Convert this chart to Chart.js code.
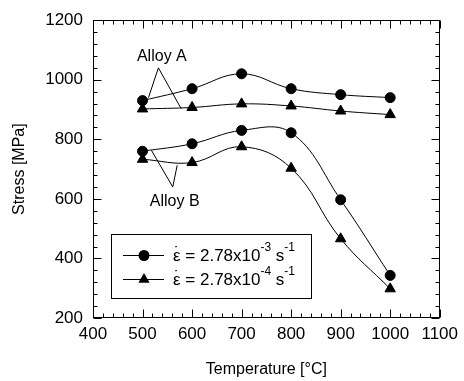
<!DOCTYPE html>
<html>
<head>
<meta charset="utf-8">
<script src="https://cdn.jsdelivr.net/npm/chart.js@4.4.0/dist/chart.umd.min.js"></script>
<style>
  html, body { margin: 0; padding: 0; background: #fff; }
  #wrap { width: 464px; height: 381px; }
</style>
</head>
<body>
<div id="wrap"><canvas id="stress-chart" width="464" height="381"></canvas></div>
<script>
// temperature [°C] and stress [MPa]
const temperatures = [500, 600, 700, 800, 900, 1000];
const alloyAFast = [930, 970, 1020, 970, 950, 940];   // 2.78x10^-3 s^-1
const alloyASlow = [902, 907, 919, 912, 895, 883];    // 2.78x10^-4 s^-1
const alloyBFast = [760, 785, 830, 822, 597, 343];
const alloyBSlow = [733, 722, 775, 703, 466, 298];

const xTicks = [400, 500, 600, 700, 800, 900, 1000, 1100];
const yTicks = [200, 400, 600, 800, 1000, 1200];

const legendRates = ['2.78', '2.78'];
const legendExponents = ['-3', '-4'];

const FONT = "'Liberation Sans', Arial, sans-serif";

function toPoints(values) {
    return temperatures.map((t, i) => ({ x: t, y: values[i] }));
}

function series(values, style) {
    return {
        data: toPoints(values),
        borderColor: '#000',
        borderWidth: 1,
        backgroundColor: '#000',
        pointStyle: style,
        pointRadius: style === 'triangle' ? 6 : 5,
        pointBorderColor: '#000',
        pointBackgroundColor: '#000',
        tension: 0.4,
        fill: false
    };
}

// "Alloy A" / "Alloy B" labels with their pointer lines, in data units
const callouts = [
    { text: 'Alloy A', at: [539, 1077], apex: [532, 1040], ends: [[512, 940], [578, 903]] },
    { text: 'Alloy B', at: [565, 590], apex: [561, 640], ends: [[518, 763], [570, 713]] }
];

function drawMarker(ctx, style, x, y) {
    ctx.beginPath();
    if (style === 'circle') {
        ctx.arc(x, y, 5.5, 0, Math.PI * 2);
    } else {
        const r = 6.5;
        ctx.moveTo(x, y - r);
        ctx.lineTo(x + r * 0.866, y + r / 2);
        ctx.lineTo(x - r * 0.866, y + r / 2);
        ctx.closePath();
    }
    ctx.fill();
}

const frameAndTicks = {
    id: 'frameAndTicks',
    afterDraw(chart) {
        const { ctx, chartArea: a, scales: { x, y } } = chart;
        ctx.save();
        ctx.strokeStyle = '#000';
        ctx.lineWidth = 1;
        const L = Math.round(a.left) + 0.5, R = Math.round(a.right) - 0.5;
        const T = Math.round(a.top) + 0.5, B = Math.round(a.bottom) - 0.5;
        ctx.beginPath();
        for (let v = 400; v <= 1100; v += 20) {
            const px = Math.round(x.getPixelForValue(v)) + 0.5;
            const len = v % 100 === 0 ? 8 : 4;
            ctx.moveTo(px, B); ctx.lineTo(px, B - len);
            ctx.moveTo(px, T); ctx.lineTo(px, T + len);
        }
        for (let v = 200; v <= 1200; v += 40) {
            const py = Math.round(y.getPixelForValue(v)) + 0.5;
            const len = v % 200 === 0 ? 8 : 4;
            ctx.moveTo(L, py); ctx.lineTo(L + len, py);
            ctx.moveTo(R, py); ctx.lineTo(R - len, py);
        }
        ctx.stroke();
        ctx.strokeRect(L, T, R - L, B - T);

        // callouts
        ctx.fillStyle = '#000';
        ctx.font = '16px ' + FONT;
        ctx.textAlign = 'center';
        ctx.textBaseline = 'middle';
        callouts.forEach(c => {
            const ax = x.getPixelForValue(c.apex[0]), ay = y.getPixelForValue(c.apex[1]);
            ctx.beginPath();
            c.ends.forEach(e => {
                ctx.moveTo(ax, ay);
                ctx.lineTo(x.getPixelForValue(e[0]), y.getPixelForValue(e[1]));
            });
            ctx.stroke();
            ctx.fillText(c.text, x.getPixelForValue(c.at[0]), y.getPixelForValue(c.at[1]));
        });

        // legend box
        ctx.strokeRect(111.5, 234.5, 200, 64);
        const rows = [{ y: 255, style: 'circle' }, { y: 279, style: 'triangle' }];
        rows.forEach((row, i) => {
            ctx.beginPath();
            ctx.moveTo(123, row.y + 0.5); ctx.lineTo(164, row.y + 0.5);
            ctx.stroke();
            drawMarker(ctx, row.style, 144, row.y + 0.5);
            let tx = 173;
            ctx.font = '17px ' + FONT;
            ctx.textAlign = 'left';
            ctx.fillText('\u03B5', tx, row.y + 1);
            const epsW = ctx.measureText('\u03B5').width;
            ctx.textAlign = 'center';
            ctx.fillText('\u02D9', tx + epsW / 2, row.y - 2);
            ctx.textAlign = 'left';
            tx += epsW;
            const main = ' = ' + legendRates[i] + 'x10';
            ctx.fillText(main, tx, row.y + 1);
            tx += ctx.measureText(main).width;
            ctx.font = '12px ' + FONT;
            ctx.fillText(legendExponents[i], tx, row.y - 7);
            tx += ctx.measureText(legendExponents[i]).width;
            ctx.font = '17px ' + FONT;
            ctx.fillText(' s', tx, row.y + 1);
            tx += ctx.measureText(' s').width;
            ctx.font = '12px ' + FONT;
            ctx.fillText('-1', tx, row.y - 7);
        });
        ctx.restore();
    }
};

const ctx = document.getElementById('stress-chart').getContext('2d');
new Chart(ctx, {
    type: 'line',
    data: {
        datasets: [
            series(alloyAFast, 'circle'),
            series(alloyASlow, 'triangle'),
            series(alloyBFast, 'circle'),
            series(alloyBSlow, 'triangle')
        ]
    },
    options: {
        responsive: false,
        animation: false,
        layout: { padding: { top: 19, right: 22, left: 0, bottom: 0 } },
        plugins: { legend: { display: false }, tooltip: { enabled: false } },
        scales: {
            x: {
                type: 'linear',
                min: 400,
                max: 1100,
                afterBuildTicks: s => { s.ticks = xTicks.map(v => ({ value: v })); },
                afterFit: s => { s.height = 63; },
                grid: { display: false, drawTicks: false },
                border: { display: false },
                ticks: {
                    color: '#000', padding: 6, maxRotation: 0,
                    font: { family: FONT, size: 17 },
                    callback: v => String(v)
                },
                title: {
                    display: true,
                    text: 'Temperature [°C]',
                    color: '#000',
                    padding: { top: 0, bottom: 2 },
                    font: { family: FONT, size: 16, lineHeight: 1.2 }
                }
            },
            y: {
                min: 200,
                max: 1200,
                afterBuildTicks: s => { s.ticks = yTicks.map(v => ({ value: v })); },
                afterFit: s => { s.width = 93; },
                grid: { display: false, drawTicks: false },
                border: { display: false },
                ticks: {
                    color: '#000', padding: 10,
                    font: { family: FONT, size: 17 },
                    callback: v => String(v)
                },
                title: {
                    display: true,
                    text: 'Stress [MPa]',
                    color: '#000',
                    padding: { top: 10, bottom: 0 },
                    font: { family: FONT, size: 16, lineHeight: 1.2 }
                }
            }
        }
    },
    plugins: [frameAndTicks]
});
</script>
</body>
</html>
